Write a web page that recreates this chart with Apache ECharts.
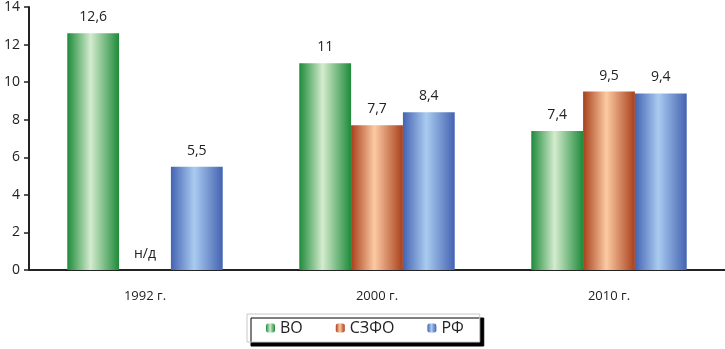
<!DOCTYPE html>
<html>
<head>
<meta charset="utf-8">
<script src="https://cdn.jsdelivr.net/npm/echarts@6/dist/echarts.min.js"></script>
<style>
html,body{margin:0;padding:0;background:#fff;}
#c{width:725px;height:349px;}
</style>
</head>
<body>
<div id="c"></div>
<script>
var categories = ['1992 г.', '2000 г.', '2010 г.'];
var seriesNames = ['ВО', 'СЗФО', 'РФ'];
var valuesVO = [12.6, 11, 7.4];
var valuesSZFO = [null, 7.7, 9.5];
var valuesRF = [5.5, 8.4, 9.4];
var yTicks = [0, 2, 4, 6, 8, 10, 12, 14];
var missingLabel = 'н/д';

var palettes = [
  ['#1e8a3a', '#d4ecce'],
  ['#a8401c', '#fccaa2'],
  ['#4463b2', '#a9cbef']
];
function grad(p) {
  return new echarts.graphic.LinearGradient(0, 0, 1, 0, [
    {offset: 0, color: p[0]},
    {offset: 0.45, color: p[1]},
    {offset: 1, color: p[0]}
  ]);
}
function fmt(v) { return String(v).replace('.', ','); }
function toData(arr) {
  return arr.map(function (v) {
    if (v === null) return {value: 0, label: {formatter: missingLabel}};
    return v;
  });
}
var all = [valuesVO, valuesSZFO, valuesRF];
var font = '"Open Sans", "Noto Sans", sans-serif';
var series = all.map(function (arr, i) {
  return {
    name: seriesNames[i],
    type: 'bar',
    data: toData(arr),
    barGap: '0%',
    barCategoryGap: '33%',
    itemStyle: {color: grad(palettes[i])},
    label: {
      show: true, position: 'top', distance: 9,
      color: '#222', fontSize: 14, fontFamily: font,
      formatter: function (p) { return fmt(p.value); }
    }
  };
});

var chart = echarts.init(document.getElementById('c'));
chart.setOption({
  animation: false,
  backgroundColor: '#fff',
  grid: {left: 29, right: 0, top: 4, bottom: 79},
  legend: {
    data: seriesNames,
    bottom: 7,
    left: 247,
    itemWidth: 9, itemHeight: 9, itemGap: 33,
    padding: [6, 16, 6, 19],
    backgroundColor: '#fff',
    borderColor: '#c8c8c8', borderWidth: 1,
    shadowColor: '#000', shadowBlur: 0, shadowOffsetX: 4, shadowOffsetY: 4,
    textStyle: {color: '#222', fontSize: 16, fontFamily: font}
  },
  xAxis: {
    type: 'category',
    data: categories,
    axisLine: {lineStyle: {color: '#222', width: 2}},
    axisTick: {show: false},
    axisLabel: {color: '#222', fontSize: 13, fontFamily: font, margin: 20}
  },
  yAxis: {
    type: 'value',
    min: yTicks[0], max: yTicks[yTicks.length - 1], interval: 2,
    axisLine: {show: true, lineStyle: {color: '#222', width: 2}},
    axisTick: {show: true, length: 5, lineStyle: {color: '#222', width: 1.5}},
    splitLine: {show: false},
    axisLabel: {color: '#222', fontSize: 14, fontFamily: font, margin: 9}
  },
  series: series
});
</script>
</body>
</html>
